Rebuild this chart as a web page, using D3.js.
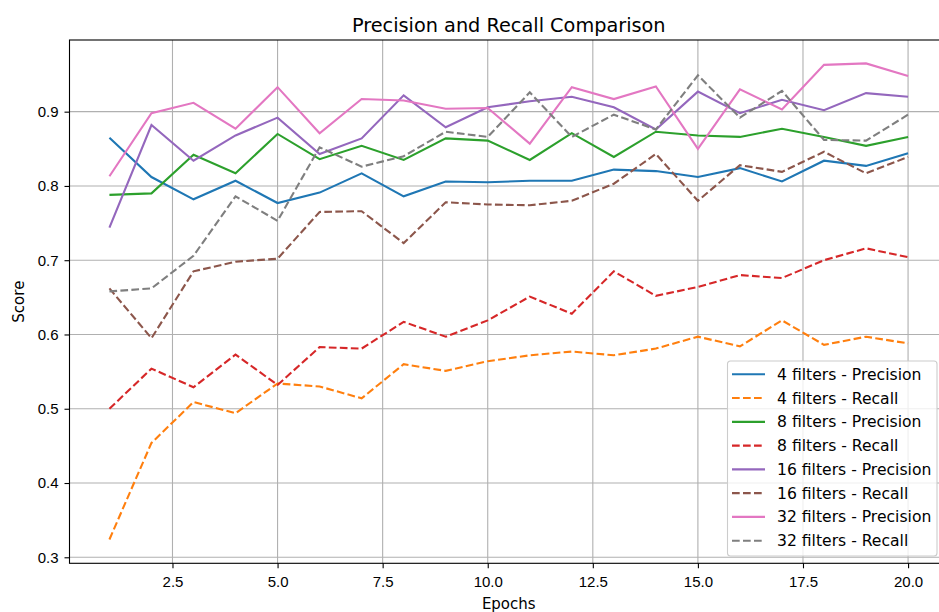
<!DOCTYPE html>
<html>
<head>
<style>
  body { margin: 0; background: #fff; }
  svg { display: block; font-family: "DejaVu Sans", sans-serif; }
</style>
</head>
<body>
<script src="https://cdnjs.cloudflare.com/ajax/libs/d3/7.8.5/d3.min.js"></script>
<script type="text/javascript">
    // values
    var epochs = [1, 2, 3, 4, 5, 6, 7, 8, 9, 10, 11, 12, 13, 14, 15, 16, 17, 18, 19, 20];
    var p4  = [0.865, 0.812, 0.782, 0.807, 0.777, 0.791, 0.817, 0.786, 0.806, 0.805, 0.807, 0.807, 0.822, 0.820, 0.812, 0.824, 0.806, 0.834, 0.827, 0.844];
    var r4  = [0.324, 0.454, 0.509, 0.494, 0.534, 0.530, 0.514, 0.560, 0.551, 0.564, 0.572, 0.577, 0.572, 0.581, 0.597, 0.584, 0.619, 0.586, 0.597, 0.588];
    var p8  = [0.788, 0.790, 0.842, 0.817, 0.870, 0.836, 0.854, 0.835, 0.864, 0.861, 0.835, 0.871, 0.839, 0.873, 0.868, 0.866, 0.877, 0.866, 0.854, 0.866];
    var r8  = [0.500, 0.554, 0.529, 0.573, 0.532, 0.583, 0.581, 0.617, 0.597, 0.619, 0.651, 0.628, 0.685, 0.652, 0.664, 0.680, 0.676, 0.700, 0.716, 0.704];
    var p16 = [0.744, 0.882, 0.834, 0.868, 0.892, 0.843, 0.864, 0.922, 0.879, 0.906, 0.914, 0.920, 0.906, 0.876, 0.927, 0.898, 0.916, 0.902, 0.925, 0.920];
    var r16 = [0.662, 0.595, 0.685, 0.698, 0.702, 0.765, 0.766, 0.723, 0.778, 0.775, 0.774, 0.780, 0.803, 0.843, 0.780, 0.828, 0.819, 0.846, 0.817, 0.839];
    var p32 = [0.813, 0.898, 0.912, 0.877, 0.933, 0.871, 0.917, 0.915, 0.904, 0.905, 0.857, 0.933, 0.917, 0.934, 0.850, 0.930, 0.903, 0.963, 0.965, 0.948];
    var r32 = [0.658, 0.662, 0.706, 0.786, 0.753, 0.852, 0.826, 0.840, 0.873, 0.866, 0.926, 0.866, 0.896, 0.876, 0.949, 0.892, 0.928, 0.862, 0.861, 0.896];

    var xTicks = [2.5, 5.0, 7.5, 10.0, 12.5, 15.0, 17.5, 20.0];
    var yTicks = [0.3, 0.4, 0.5, 0.6, 0.7, 0.8, 0.9];

    var series = [
        { name: "4 filters - Precision",  values: p4,  color: "#1f77b4", dashed: false },
        { name: "4 filters - Recall",     values: r4,  color: "#ff7f0e", dashed: true },
        { name: "8 filters - Precision",  values: p8,  color: "#2ca02c", dashed: false },
        { name: "8 filters - Recall",     values: r8,  color: "#d62728", dashed: true },
        { name: "16 filters - Precision", values: p16, color: "#9467bd", dashed: false },
        { name: "16 filters - Recall",    values: r16, color: "#8c564b", dashed: true },
        { name: "32 filters - Precision", values: p32, color: "#e377c2", dashed: false },
        { name: "32 filters - Recall",    values: r32, color: "#7f7f7f", dashed: true }
    ];

    var svgWidth = 939, svgHeight = 612;
    // axes box (right edge runs past the window, like the original crop)
    var axLeft = 69.5, axRight = 948, axTop = 40, axBottom = 563.3;

    var svg = d3.select("body").append("svg")
        .attr("width", svgWidth)
        .attr("height", svgHeight)
        .style("overflow", "hidden");

    var x = d3.scaleLinear().domain([0.05, 20.95]).range([axLeft, axRight]);
    var y = d3.scaleLinear().domain([0.2919, 0.9965]).range([axBottom, axTop]);

    // grid
    svg.append("g").selectAll("line")
        .data(xTicks).enter().append("line")
        .attr("x1", function(d) { return x(d); })
        .attr("x2", function(d) { return x(d); })
        .attr("y1", axTop).attr("y2", axBottom)
        .attr("stroke", "#b0b0b0").attr("stroke-width", 1.1);
    svg.append("g").selectAll("line")
        .data(yTicks).enter().append("line")
        .attr("x1", axLeft).attr("x2", axRight)
        .attr("y1", function(d) { return y(d); })
        .attr("y2", function(d) { return y(d); })
        .attr("stroke", "#b0b0b0").attr("stroke-width", 1.1);

    var line = d3.line()
        .x(function(d, i) { return x(epochs[i]); })
        .y(function(d) { return y(d); });

    svg.append("g").selectAll("path")
        .data(series).enter().append("path")
        .attr("d", function(d) { return line(d.values); })
        .attr("fill", "none")
        .attr("stroke", function(d) { return d.color; })
        .attr("stroke-width", 2.1)
        .attr("stroke-dasharray", function(d) { return d.dashed ? "7.7,3.3" : null; });

    // axes
    var xAxis = svg.append("g")
        .attr("transform", "translate(0," + axBottom + ")")
        .call(d3.axisBottom(x).tickValues(xTicks).tickFormat(d3.format(".1f")).tickSize(5).tickPadding(8).tickSizeOuter(0));
    var yAxis = svg.append("g")
        .attr("transform", "translate(" + axLeft + ",0)")
        .call(d3.axisLeft(y).tickValues(yTicks).tickFormat(d3.format(".1f")).tickSize(5).tickPadding(6).tickSizeOuter(0));
    [xAxis, yAxis].forEach(function(a) {
        a.select(".domain").remove();
        a.selectAll("line").attr("stroke", "#000").attr("stroke-width", 1.1);
        a.selectAll("text").attr("fill", "#000").attr("font-size", null)
            .attr("font-family", null).style("font-size", "15px");
    });

    // frame
    svg.append("rect")
        .attr("x", axLeft).attr("y", axTop)
        .attr("width", axRight - axLeft).attr("height", axBottom - axTop)
        .attr("fill", "none").attr("stroke", "#000").attr("stroke-width", 1.1);

    // title and labels
    svg.append("text")
        .attr("x", (axLeft + axRight) / 2).attr("y", 32)
        .attr("text-anchor", "middle")
        .style("font-size", "19.3px")
        .text("Precision and Recall Comparison");
    svg.append("text")
        .attr("x", (axLeft + axRight) / 2).attr("y", 609)
        .attr("text-anchor", "middle")
        .style("font-size", "15px")
        .text("Epochs");
    svg.append("text")
        .attr("transform", "translate(24," + ((axTop + axBottom) / 2) + ") rotate(-90)")
        .attr("text-anchor", "middle")
        .style("font-size", "15px")
        .text("Score");

    // legend
    var lg = svg.append("g").attr("transform", "translate(727.5,361)");
    lg.append("rect")
        .attr("width", 209.5).attr("height", 195)
        .attr("rx", 3)
        .attr("fill", "#fff").attr("fill-opacity", 0.8)
        .attr("stroke", "#cccccc").attr("stroke-width", 1.1);
    var rows = lg.selectAll("g")
        .data(series).enter().append("g")
        .attr("transform", function(d, i) { return "translate(0," + (13.3 + i * 23.77) + ")"; });
    rows.append("line")
        .attr("x1", 4.5).attr("x2", 37.5)
        .attr("stroke", function(d) { return d.color; })
        .attr("stroke-width", 2.1)
        .attr("stroke-dasharray", function(d) { return d.dashed ? "7.7,3.3" : null; });
    rows.append("text")
        .attr("x", 49.5).attr("dy", "0.35em")
        .style("font-size", "15.6px")
        .text(function(d) { return d.name; });
</script>
</body>
</html>
